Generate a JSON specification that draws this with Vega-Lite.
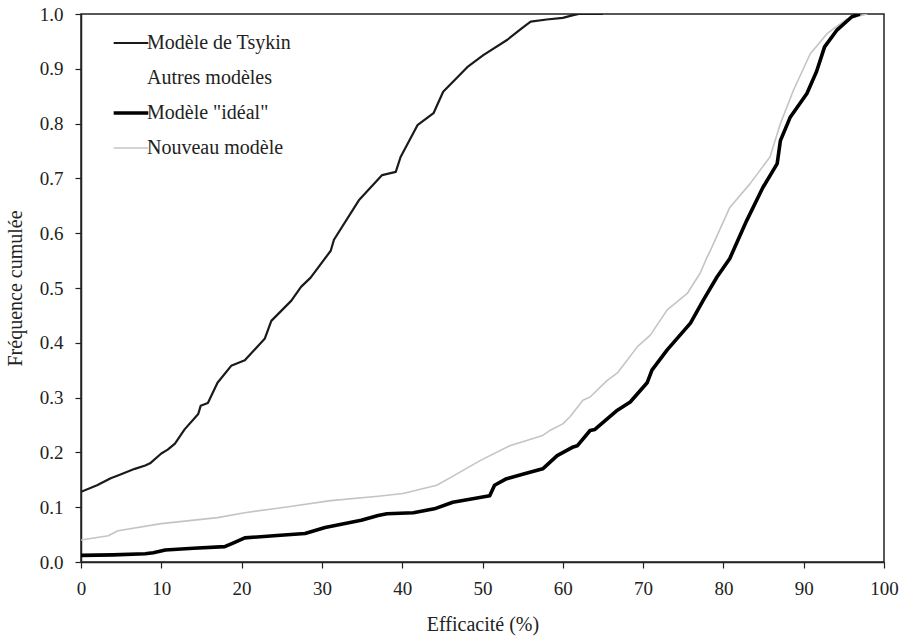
{
  "$schema": "https://vega.github.io/schema/vega-lite/v6.json",
  "width": 803,
  "height": 548,
  "autosize": {"type": "none"},
  "padding": {"left": 81, "top": 14, "right": 21, "bottom": 76},
  "background": "white",
  "config": {
    "font": "'Liberation Serif', 'DejaVu Serif', serif",
    "view": {"stroke": "#222", "strokeWidth": 1.5},
    "axis": {"domainColor": "#222", "tickColor": "#222", "labelColor": "#222", "titleColor": "#222", "grid": false, "domainWidth": 1.5, "tickWidth": 1.2,
      "labelFont": "'Liberation Serif', 'DejaVu Serif', serif", "titleFont": "'Liberation Serif', 'DejaVu Serif', serif"},
    "legend": {"labelFont": "'Liberation Serif', 'DejaVu Serif', serif"}
  },
  "data": {"values": [
    {"s":"Modèle de Tsykin","e":0,"f":0.128},{"s":"Modèle de Tsykin","e":2,"f":0.14},{"s":"Modèle de Tsykin","e":3.7,"f":0.153},{"s":"Modèle de Tsykin","e":4.6,"f":0.158},{"s":"Modèle de Tsykin","e":6.7,"f":0.17},{"s":"Modèle de Tsykin","e":8,"f":0.176},{"s":"Modèle de Tsykin","e":8.6,"f":0.18},{"s":"Modèle de Tsykin","e":10,"f":0.198},{"s":"Modèle de Tsykin","e":10.8,"f":0.205},{"s":"Modèle de Tsykin","e":11.7,"f":0.216},{"s":"Modèle de Tsykin","e":12.9,"f":0.242},{"s":"Modèle de Tsykin","e":14.6,"f":0.27},{"s":"Modèle de Tsykin","e":14.9,"f":0.285},{"s":"Modèle de Tsykin","e":15.8,"f":0.29},{"s":"Modèle de Tsykin","e":17,"f":0.327},{"s":"Modèle de Tsykin","e":18.7,"f":0.358},{"s":"Modèle de Tsykin","e":20.4,"f":0.368},{"s":"Modèle de Tsykin","e":22.9,"f":0.408},{"s":"Modèle de Tsykin","e":23.7,"f":0.44},{"s":"Modèle de Tsykin","e":26.2,"f":0.477},{"s":"Modèle de Tsykin","e":27.4,"f":0.502},{"s":"Modèle de Tsykin","e":28.6,"f":0.519},{"s":"Modèle de Tsykin","e":31.1,"f":0.568},{"s":"Modèle de Tsykin","e":31.5,"f":0.588},{"s":"Modèle de Tsykin","e":34.6,"f":0.66},{"s":"Modèle de Tsykin","e":37.5,"f":0.706},{"s":"Modèle de Tsykin","e":39.2,"f":0.712},{"s":"Modèle de Tsykin","e":39.8,"f":0.739},{"s":"Modèle de Tsykin","e":41.9,"f":0.797},{"s":"Modèle de Tsykin","e":43.9,"f":0.819},{"s":"Modèle de Tsykin","e":45.1,"f":0.858},{"s":"Modèle de Tsykin","e":48.1,"f":0.903},{"s":"Modèle de Tsykin","e":50.1,"f":0.925},{"s":"Modèle de Tsykin","e":53.1,"f":0.953},{"s":"Modèle de Tsykin","e":55,"f":0.975},{"s":"Modèle de Tsykin","e":56,"f":0.986},{"s":"Modèle de Tsykin","e":58,"f":0.99},{"s":"Modèle de Tsykin","e":60,"f":0.993},{"s":"Modèle de Tsykin","e":61.3,"f":0.998},{"s":"Modèle de Tsykin","e":62,"f":1.0},{"s":"Modèle de Tsykin","e":65,"f":1.0},
    {"s":"Modèle \"idéal\"","e":0,"f":0.012},{"s":"Modèle \"idéal\"","e":4,"f":0.013},{"s":"Modèle \"idéal\"","e":8,"f":0.015},{"s":"Modèle \"idéal\"","e":9,"f":0.017},{"s":"Modèle \"idéal\"","e":10.5,"f":0.022},{"s":"Modèle \"idéal\"","e":14,"f":0.025},{"s":"Modèle \"idéal\"","e":17.9,"f":0.028},{"s":"Modèle \"idéal\"","e":19,"f":0.035},{"s":"Modèle \"idéal\"","e":20.4,"f":0.044},{"s":"Modèle \"idéal\"","e":24,"f":0.048},{"s":"Modèle \"idéal\"","e":27.9,"f":0.052},{"s":"Modèle \"idéal\"","e":30.4,"f":0.063},{"s":"Modèle \"idéal\"","e":34.9,"f":0.076},{"s":"Modèle \"idéal\"","e":37,"f":0.085},{"s":"Modèle \"idéal\"","e":38.1,"f":0.088},{"s":"Modèle \"idéal\"","e":41.4,"f":0.09},{"s":"Modèle \"idéal\"","e":44,"f":0.097},{"s":"Modèle \"idéal\"","e":46.3,"f":0.109},{"s":"Modèle \"idéal\"","e":50.9,"f":0.121},{"s":"Modèle \"idéal\"","e":51.5,"f":0.14},{"s":"Modèle \"idéal\"","e":53,"f":0.152},{"s":"Modèle \"idéal\"","e":55,"f":0.16},{"s":"Modèle \"idéal\"","e":57.5,"f":0.17},{"s":"Modèle \"idéal\"","e":59.3,"f":0.194},{"s":"Modèle \"idéal\"","e":61.3,"f":0.21},{"s":"Modèle \"idéal\"","e":61.8,"f":0.212},{"s":"Modèle \"idéal\"","e":63.4,"f":0.24},{"s":"Modèle \"idéal\"","e":64,"f":0.242},{"s":"Modèle \"idéal\"","e":66.8,"f":0.277},{"s":"Modèle \"idéal\"","e":68.4,"f":0.292},{"s":"Modèle \"idéal\"","e":70.5,"f":0.327},{"s":"Modèle \"idéal\"","e":71.1,"f":0.35},{"s":"Modèle \"idéal\"","e":73,"f":0.387},{"s":"Modèle \"idéal\"","e":75.9,"f":0.436},{"s":"Modèle \"idéal\"","e":77.5,"f":0.478},{"s":"Modèle \"idéal\"","e":79.2,"f":0.52},{"s":"Modèle \"idéal\"","e":80.8,"f":0.554},{"s":"Modèle \"idéal\"","e":81.1,"f":0.564},{"s":"Modèle \"idéal\"","e":82.9,"f":0.623},{"s":"Modèle \"idéal\"","e":84.9,"f":0.683},{"s":"Modèle \"idéal\"","e":86.7,"f":0.727},{"s":"Modèle \"idéal\"","e":87.1,"f":0.769},{"s":"Modèle \"idéal\"","e":88.3,"f":0.811},{"s":"Modèle \"idéal\"","e":90.4,"f":0.855},{"s":"Modèle \"idéal\"","e":91.6,"f":0.895},{"s":"Modèle \"idéal\"","e":92.6,"f":0.94},{"s":"Modèle \"idéal\"","e":94.1,"f":0.97},{"s":"Modèle \"idéal\"","e":96,"f":0.995},{"s":"Modèle \"idéal\"","e":97,"f":1.0},
    {"s":"Nouveau modèle","e":0,"f":0.04},{"s":"Nouveau modèle","e":3.4,"f":0.048},{"s":"Nouveau modèle","e":4.6,"f":0.057},{"s":"Nouveau modèle","e":10,"f":0.07},{"s":"Nouveau modèle","e":17,"f":0.081},{"s":"Nouveau modèle","e":20.4,"f":0.09},{"s":"Nouveau modèle","e":25.4,"f":0.1},{"s":"Nouveau modèle","e":31.1,"f":0.112},{"s":"Nouveau modèle","e":37,"f":0.12},{"s":"Nouveau modèle","e":40.1,"f":0.125},{"s":"Nouveau modèle","e":44.3,"f":0.14},{"s":"Nouveau modèle","e":46,"f":0.154},{"s":"Nouveau modèle","e":49.7,"f":0.185},{"s":"Nouveau modèle","e":53.4,"f":0.212},{"s":"Nouveau modèle","e":57.5,"f":0.231},{"s":"Nouveau modèle","e":58.5,"f":0.241},{"s":"Nouveau modèle","e":60,"f":0.252},{"s":"Nouveau modèle","e":60.9,"f":0.265},{"s":"Nouveau modèle","e":62.5,"f":0.295},{"s":"Nouveau modèle","e":63.4,"f":0.301},{"s":"Nouveau modèle","e":65.5,"f":0.331},{"s":"Nouveau modèle","e":66.8,"f":0.345},{"s":"Nouveau modèle","e":69.3,"f":0.393},{"s":"Nouveau modèle","e":70.9,"f":0.414},{"s":"Nouveau modèle","e":73,"f":0.46},{"s":"Nouveau modèle","e":75.5,"f":0.49},{"s":"Nouveau modèle","e":77.1,"f":0.527},{"s":"Nouveau modèle","e":77.9,"f":0.554},{"s":"Nouveau modèle","e":78.4,"f":0.569},{"s":"Nouveau modèle","e":80.8,"f":0.647},{"s":"Nouveau modèle","e":83.3,"f":0.69},{"s":"Nouveau modèle","e":85.8,"f":0.739},{"s":"Nouveau modèle","e":87.1,"f":0.8},{"s":"Nouveau modèle","e":88.7,"f":0.86},{"s":"Nouveau modèle","e":90.8,"f":0.927},{"s":"Nouveau modèle","e":92.9,"f":0.964},{"s":"Nouveau modèle","e":95.4,"f":0.991},{"s":"Nouveau modèle","e":97.9,"f":1.0}
  ]},
  "encoding": {
    "x": {"field": "e", "type": "quantitative", "scale": {"domain": [0, 100], "nice": false},
      "axis": {"title": "Efficacité (%)", "values": [0,10,20,30,40,50,60,70,80,90,100], "tickSize": 6, "labelFontSize": 19, "labelPadding": 11, "titleFontSize": 20, "titleFontWeight": "normal", "titlePadding": 16, "labelFlush": false}},
    "y": {"field": "f", "type": "quantitative", "scale": {"domain": [0, 1], "nice": false},
      "axis": {"title": "Fréquence cumulée", "values": [0,0.1,0.2,0.3,0.4,0.5,0.6,0.7,0.8,0.9,1.0], "format": ".1f", "tickSize": 6, "labelFontSize": 19, "labelPadding": 12, "titleFontSize": 20, "titleFontWeight": "normal", "titlePadding": 14, "labelFlush": false}},
    "color": {"field": "s", "type": "nominal",
      "scale": {"domain": ["Modèle de Tsykin", "Autres modèles", "Modèle \"idéal\"", "Nouveau modèle"], "range": ["#1a1a1a", "#ffffff", "#000000", "#c4c4c4"]},
      "legend": {"title": null, "orient": "none", "legendX": 40, "legendY": 19, "symbolType": "stroke", "symbolSize": 1200, "symbolStrokeWidth": 2, "labelFontSize": 20, "labelColor": "#222", "labelOffset": 6, "rowPadding": 15, "padding": 0,
        "encode": {"symbols": {"update": {"strokeWidth": {"signal": "datum.value === 'Modèle \"idéal\"' ? 3.5 : (datum.value === 'Nouveau modèle' ? 1.5 : 2)"}}}}}}
  },
  "layer": [
    {"transform": [{"filter": "datum.s === 'Nouveau modèle'"}], "mark": {"type": "line", "clip": true, "strokeWidth": 1.6, "strokeJoin": "round"}},
    {"transform": [{"filter": "datum.s === 'Modèle de Tsykin'"}], "mark": {"type": "line", "clip": true, "strokeWidth": 2.2, "strokeJoin": "round"}},
    {"transform": [{"filter": "datum.s === 'Modèle \"idéal\"'"}], "mark": {"type": "line", "clip": true, "strokeWidth": 3.6, "strokeJoin": "round"}}
  ]
}
